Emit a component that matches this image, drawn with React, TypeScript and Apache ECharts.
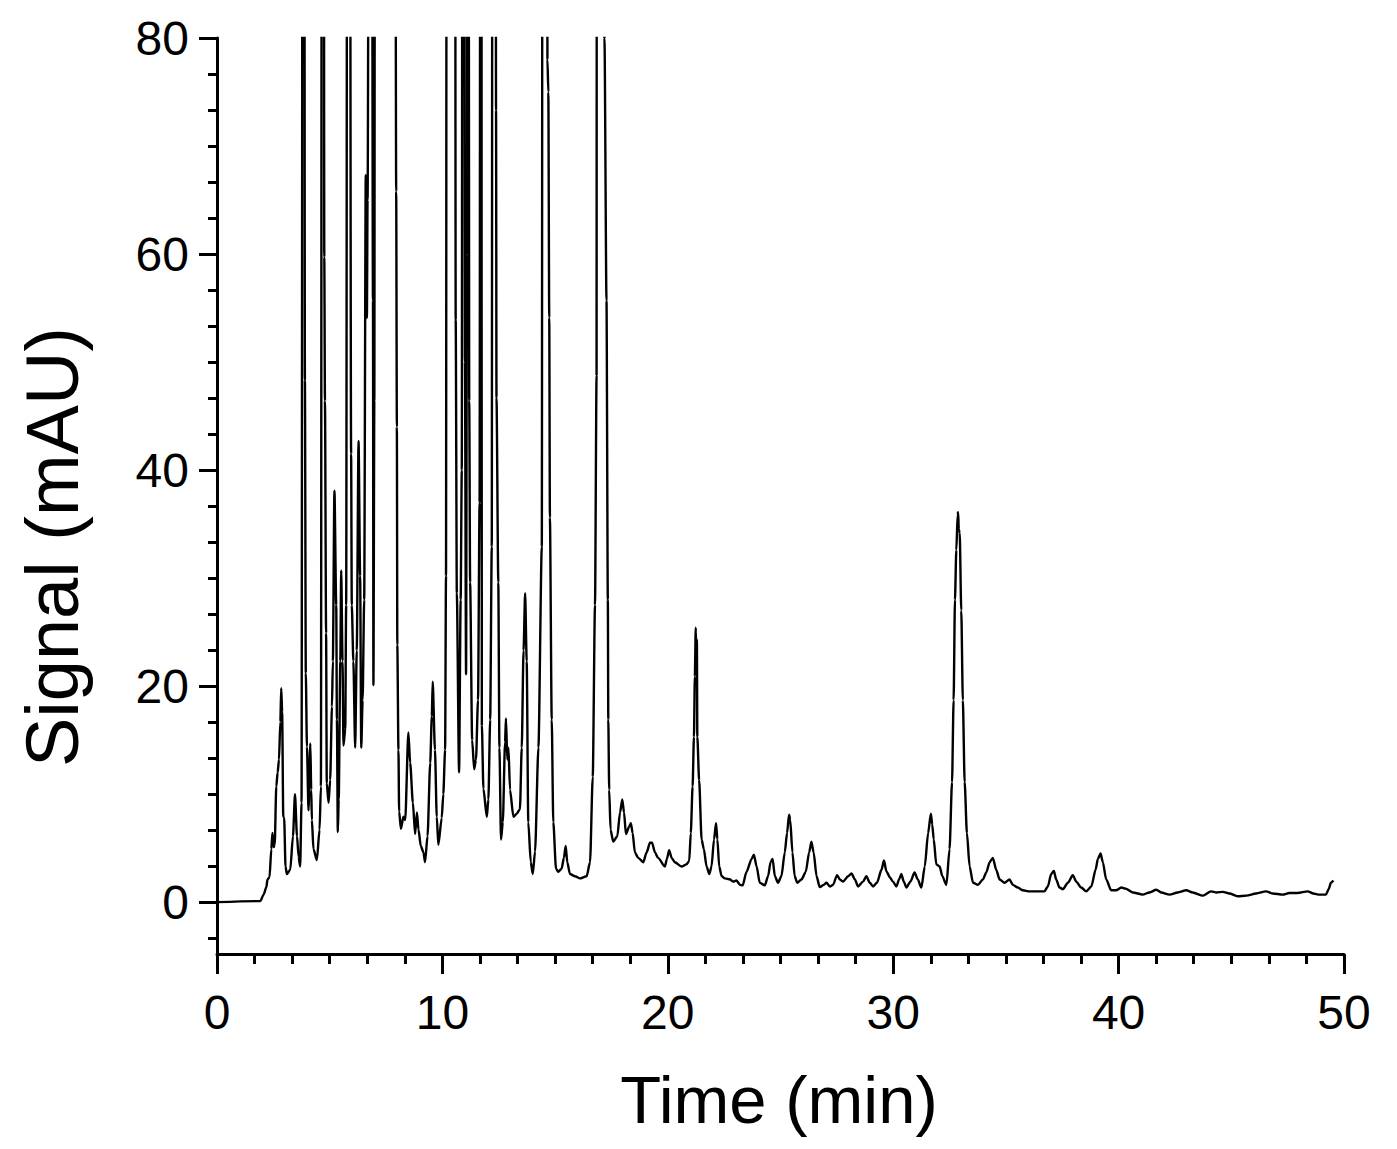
import React, { useEffect, useRef } from "react";
import * as echarts from "echarts";

// Retention time (min)
const timeMin = [
  0, 1.92, 2.07, 2.19, 2.24, 2.33, 2.41, 2.46, 2.51, 2.56, 2.63, 2.69, 2.75, 2.81, 2.85, 2.89, 2.94, 2.98,
  3.04, 3.10, 3.25, 3.37, 3.46, 3.55, 3.62, 3.69, 3.75, 3.84, 3.90, 3.94, 3.99,
  4.06, 4.14, 4.18, 4.21, 4.28, 4.43, 4.55, 4.61, 4.70, 4.76, 4.79, 4.84, 4.87, 4.95,
  5.02, 5.10, 5.14, 5.21, 5.29, 5.32, 5.36, 5.40, 5.47, 5.51, 5.57, 5.61, 5.69, 5.73, 5.83, 5.95, 5.98,
  6.05, 6.13, 6.20, 6.28, 6.35, 6.40, 6.46, 6.53, 6.60, 6.65, 6.68, 6.82, 6.92, 6.94, 6.98,
  7.02, 7.20, 7.45, 7.70, 7.88, 7.95, 7.98,
  8.00, 8.05, 8.08, 8.16, 8.27, 8.35, 8.49, 8.57, 8.69, 8.79, 8.87, 8.94,
  9.04, 9.16, 9.23, 9.34, 9.46, 9.53, 9.57, 9.67, 9.75, 9.82, 9.97,
  10.04, 10.12, 10.16, 10.20, 10.40, 10.55, 10.59, 10.64, 10.74, 10.81, 10.86, 10.92, 10.97,
  11.00, 11.05, 11.09, 11.12, 11.17, 11.19, 11.23, 11.32, 11.41, 11.49, 11.58, 11.65, 11.72, 11.74, 11.75, 11.82, 11.97,
  12.04, 12.12, 12.19, 12.25, 12.33, 12.38, 12.40, 12.48, 12.53, 12.60, 12.68, 12.78, 12.82, 12.88, 12.93,
  13.00, 13.15, 13.30, 13.44, 13.52, 13.60, 13.67, 13.74, 13.81, 13.92,
  14.01, 14.11, 14.26, 14.41, 14.50, 14.62, 14.66, 14.70, 14.74, 14.77, 14.85, 14.92,
  15.04, 15.14, 15.29, 15.39, 15.47, 15.54, 15.66, 15.88,
  16.10, 16.40, 16.55, 16.67, 16.77, 16.84, 16.95,
  17.10, 17.19, 17.28, 17.34, 17.36, 17.40, 17.46, 17.58, 17.76, 17.88, 17.98,
  18.06, 18.14, 18.29, 18.36, 18.44, 18.54, 18.69, 18.91,
  19.06, 19.21, 19.30, 19.43, 19.57, 19.87, 19.96,
  20.06, 20.17, 20.31, 20.61, 20.83, 20.95,
  21.02, 21.10, 21.16, 21.20, 21.24, 21.27, 21.29, 21.31, 21.39, 21.50, 21.60, 21.72, 21.84, 21.94,
  22.05, 22.14, 22.20, 22.28, 22.39, 22.53, 22.76, 22.90,
  23.05, 23.20, 23.32, 23.49, 23.72, 23.82, 23.94,
  24.08, 24.30, 24.45, 24.56, 24.65, 24.75, 24.89,
  25.04, 25.19, 25.29, 25.38, 25.43, 25.53, 25.63, 25.74, 25.93,
  26.12, 26.27, 26.37, 26.47, 26.60, 26.74, 26.92,
  27.04, 27.19, 27.33, 27.51, 27.63, 27.78,
  28.00, 28.15, 28.30, 28.44, 28.66, 28.81, 28.96,
  29.11, 29.28, 29.48, 29.59, 29.70, 29.85, 29.99,
  30.14, 30.26, 30.36, 30.47, 30.59, 30.76, 30.95,
  31.09, 31.25, 31.40, 31.55, 31.67, 31.73, 31.80, 31.91,
  32.06, 32.18, 32.36, 32.50, 32.61, 32.68, 32.74, 32.80, 32.86, 32.88, 32.91, 32.95,
  33.02, 33.09, 33.17, 33.27, 33.39, 33.54, 33.76, 33.98,
  34.13, 34.28, 34.42, 34.57, 34.72, 34.94,
  35.16, 35.31, 35.53, 35.75,
  36.05, 36.36, 36.71, 36.86,
  37.01, 37.13, 37.23, 37.38, 37.53, 37.75, 37.97,
  38.12, 38.34, 38.56, 38.79, 38.98,
  39.08, 39.20, 39.30, 39.45, 39.67, 39.89,
  40.12, 40.31, 40.63, 41.07, 41.37, 41.67, 41.89,
  42.26, 42.62, 43.00, 43.29, 43.74,
  44.10, 44.34, 44.62, 44.92, 45.28, 45.67,
  46.10, 46.54, 46.84, 47.28, 47.58, 47.94,
  48.39, 48.64, 48.91, 49.20, 49.32, 49.42, 49.53,
];

// Detector signal (mAU)
const signalMAU = [
  0, 0.1, 0.7, 1.4, 2.1, 2.3, 4.9, 6.4, 5.1, 5.3, 10.7, 12.0, 13.2, 16.7, 19.8, 17.6, 7.9, 7.8,
  3.3, 2.6, 3.0, 6.1, 10.0, 6.1, 4.2, 3.3, 9.2, 250, 48.3, 21.2, 14.4,
  8.5, 14.7, 10.4, 7.6, 4.9, 3.9, 6.7, 10.7, 300, 59.7, 46.4, 24.9, 11.0, 9.2,
  11.3, 18.1, 22.3, 38.1, 27.5, 16.9, 6.5, 9.5, 22.3, 30.7, 22.3, 14.5, 16.0, 27.5, 250, 41.5, 27.5,
  22.3, 14.3, 23.3, 42.7, 30.2, 14.3, 18.7, 28.0, 67.3, 54.1, 65.0, 200, 55.7, 20.1, 46.4,
  150, 400, 600, 400, 150, 65.8, 44.0,
  23.8, 14.1, 8.4, 6.8, 7.9, 7.6, 15.7, 12.9, 9.2, 6.3, 8.3, 6.7,
  5.2, 4.6, 3.7, 6.1, 12.9, 17.2, 20.4, 14.1, 7.9, 5.3, 7.8,
  10.0, 14.1, 30.2, 150, 500, 150, 53.9, 28.6, 12.0, 28.0, 40.0, 250, 90,
  50, 21.1, 60, 200, 90, 46.4, 29.6, 15.0, 12.3, 13.2, 18.7, 37.0, 250, 55.6, 16.4, 10.5, 7.9,
  9.5, 16.9, 32.9, 250, 250, 73.3, 46.7, 29.6, 14.3, 5.8, 7.4, 14.8, 17.0, 13.2, 14.3,
  10.4, 7.9, 8.2, 8.6, 14.3, 23.3, 28.6, 22.3, 7.4, 3.7,
  2.6, 4.7, 14.3, 32.9, 400, 400, 78.0, 75.0, 54.1, 35.6, 16.9, 7.4,
  3.1, 2.8, 3.1, 4.1, 5.2, 3.7, 2.6, 2.4,
  2.2, 2.4, 3.7, 11.6, 27.5, 48.8, 700,
  700, 80, 55.7, 28.0, 16.9, 10.4, 6.7, 5.6, 6.1, 8.3, 9.5,
  8.3, 6.3, 7.0, 7.3, 6.4, 4.6, 4.1, 3.7,
  4.6, 5.5, 5.5, 4.6, 4.1, 3.3, 4.0,
  4.8, 4.1, 3.7, 3.3, 3.5, 3.8,
  6.4, 10.7, 15.3, 20.9, 25.4, 22.0, 24.3, 15.3, 11.3, 5.8, 4.9, 3.3, 2.6, 3.3,
  5.8, 7.3, 5.8, 3.3, 2.4, 2.2, 2.1, 1.9,
  2.0, 1.6, 1.55, 2.8, 4.0, 4.4, 3.3,
  1.8, 1.55, 2.4, 3.7, 4.0, 2.4, 1.8,
  2.4, 4.6, 6.4, 8.1, 7.6, 4.6, 2.4, 1.8, 2.1,
  2.8, 4.6, 5.6, 4.6, 2.4, 1.4, 1.6,
  1.8, 1.45, 1.6, 2.5, 2.1, 1.9,
  2.4, 2.65, 2.1, 1.45, 1.9, 2.4, 1.8,
  1.45, 1.8, 3.0, 3.85, 2.85, 2.3, 1.9,
  1.45, 2.1, 2.6, 1.9, 1.35, 1.9, 2.75,
  2.1, 1.35, 3.3, 6.4, 8.2, 7.2, 5.8, 3.5,
  3.3, 2.4, 1.6, 4.9, 11.1, 18.7, 28.0, 32.6, 35.9, 36.1, 34.5, 34.2,
  27.0, 18.7, 11.1, 6.4, 3.3, 1.8, 1.6, 2.1,
  2.75, 3.7, 4.1, 3.0, 2.1, 1.8,
  2.1, 1.6, 1.35, 1.1,
  1.0, 1.0, 1.0, 1.45,
  2.6, 2.9, 2.1, 1.35, 1.2, 1.8, 2.5,
  1.9, 1.35, 1.0, 1.45, 3.0,
  4.0, 4.5, 3.7, 2.1, 1.1, 1.1,
  1.35, 1.25, 0.9, 0.7, 0.9, 1.15, 0.9,
  0.7, 0.9, 1.1, 0.9, 0.6,
  1.0, 0.9, 0.95, 0.8, 0.55, 0.6,
  0.8, 1.0, 0.8, 0.7, 0.85, 0.85,
  1.0, 0.8, 0.7, 0.7, 1.2, 1.8, 2.0,
];

const xTickLabels = [0, 10, 20, 30, 40, 50];
const yTickLabels = [0, 20, 40, 60, 80];
const xTitle = "Time (min)";
const yTitle = "Signal (mAU)";

const FONT = "'Liberation Sans', Arial, Helvetica, sans-serif";

export default function App() {
  const ref = useRef<HTMLDivElement>(null);

  useEffect(() => {
    if (!ref.current) return;
    const chart = echarts.init(ref.current, null, { renderer: "svg", width: 1397, height: 1149 });

    const data = timeMin.map((t, i) => [t, signalMAU[i]]);
    const yStep = (yTickLabels[1] - yTickLabels[0]) / 6;
    const yMinor: number[] = [];
    for (let k = -1; k < 24; k++) {
      if (k % 6 !== 0) yMinor.push(+(k * yStep).toFixed(4));
    }

    const black = "#000";
    chart.setOption({
      animation: false,
      backgroundColor: "#ffffff",
      grid: { left: 217, top: 38, width: 1127, height: 916, containLabel: false },
      xAxis: [
        {
          type: "value",
          min: 0,
          max: 50,
          interval: 10,
          position: "bottom",
          axisLine: { show: true, onZero: false, lineStyle: { color: black, width: 3 } },
          axisTick: { show: true, length: 20, lineStyle: { color: black, width: 3 } },
          minorTick: { show: true, splitNumber: 6, length: 10, lineStyle: { color: black, width: 3 } },
          axisLabel: {
            show: true,
            customValues: xTickLabels,
            margin: 34,
            fontSize: 48,
            color: black,
            fontFamily: FONT,
          },
          splitLine: { show: false },
          minorSplitLine: { show: false },
        },
      ],
      yAxis: [
        {
          type: "value",
          min: -4.8,
          max: 80,
          position: "left",
          axisLine: { show: true, onZero: false, lineStyle: { color: black, width: 3 } },
          axisTick: { show: true, customValues: yTickLabels, length: 18, lineStyle: { color: black, width: 3 } },
          axisLabel: {
            show: true,
            customValues: yTickLabels,
            margin: 28,
            fontSize: 48,
            color: black,
            fontFamily: FONT,
          },
          splitLine: { show: false },
        },
        {
          type: "value",
          min: -4.8,
          max: 80,
          position: "left",
          offset: 0,
          axisLine: { show: false },
          axisTick: { show: true, customValues: yMinor, length: 9, lineStyle: { color: black, width: 3 } },
          axisLabel: { show: false },
          splitLine: { show: false },
        },
      ],
      graphic: [
        {
          type: "text",
          x: 779,
          y: 1099,
          style: {
            text: xTitle,
            fontSize: 67,
            fontFamily: FONT,
            fill: black,
            align: "center",
            verticalAlign: "middle",
          },
        },
        {
          type: "text",
          x: 52,
          y: 547,
          rotation: Math.PI / 2,
          style: {
            text: yTitle,
            fontSize: 74,
            fontFamily: FONT,
            fill: black,
            align: "center",
            verticalAlign: "middle",
          },
        },
      ],
      series: [
        {
          type: "line",
          xAxisIndex: 0,
          yAxisIndex: 0,
          data,
          symbol: "none",
          showSymbol: false,
          clip: true,
          smooth: 0.25,
          smoothMonotone: "x",
          lineStyle: { color: black, width: 2.4 },
        },
      ],
    });

    return () => chart.dispose();
  }, []);

  return (
    <div
      ref={ref}
      style={{ position: "absolute", left: 0, top: 0, width: 1397, height: 1149, background: "#fff" }}
    />
  );
}
